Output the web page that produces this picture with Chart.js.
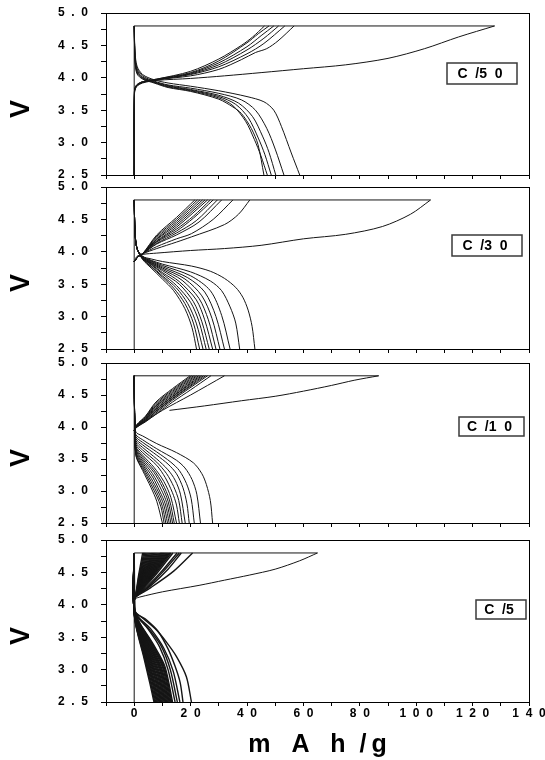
<!DOCTYPE html>
<html><head><meta charset="utf-8">
<script src="https://cdn.jsdelivr.net/npm/chart.js@4.4.1/dist/chart.umd.min.js"></script>
<style>
html,body{margin:0;padding:0;background:#fff;}
#wrap{position:relative;width:545px;height:760px;overflow:hidden;background:#fff;}
canvas{position:absolute;left:0;top:0;}
</style></head><body><div id="wrap">
<canvas id="p1" width="545" height="760"></canvas>
<canvas id="p2" width="545" height="760"></canvas>
<canvas id="p3" width="545" height="760"></canvas>
<canvas id="p4" width="545" height="760"></canvas>
</div>
<script>
const xTickValues = [-10,0,10,20,30,40,50,60,70,80,90,100,110,120,130,140];
const yTickValues = [2.5,2.75,3,3.25,3.5,3.75,4,4.25,4.5,4.75,5];
const rateLabels = ['C  /5  0','C  /3  0','C  /1  0','C  /5'];
const xTitle = 'm   A   h  /\u2009g';
const yTitle = 'V';

// ---- C/50 ----
const c50Frame = [[0,2.5],[0,4.8],[127.8,4.8]];
const c50FirstCharge = [[0,2.5],[0.1,3.75],[0.8,3.86],[3,3.92],[8,3.96],[20,3.99],[32,4.03],[45,4.08],[60,4.14],[75,4.2],[90,4.3],[103,4.45],[115,4.63],[127.8,4.8]];
const c50Charge = [
 [[0,2.5],[0.1,3.78],[0.8,3.87],[3,3.93],[8,3.97],[20,4.03],[30,4.13],[38,4.28],[43,4.39],[47,4.45],[51,4.57],[56.7,4.8]],
 [[0,2.5],[0.1,3.78],[0.8,3.87],[3,3.93],[8,3.97],[20,4.05],[30,4.17],[40,4.37],[46,4.53],[53.4,4.8]],
 [[0,2.5],[0.1,3.79],[0.8,3.88],[3,3.93],[8,3.97],[20,4.06],[30,4.2],[40,4.43],[46,4.61],[51.2,4.8]],
 [[0,2.5],[0.1,3.79],[0.8,3.88],[3,3.94],[8,3.97],[20,4.07],[30,4.23],[40,4.48],[45,4.65],[49.5,4.8]],
 [[0,2.5],[0.1,3.8],[0.8,3.88],[3,3.94],[8,3.98],[20,4.08],[30,4.26],[40,4.54],[44,4.68],[47.8,4.8]],
 [[0,2.5],[0.1,3.8],[0.8,3.89],[3,3.94],[8,3.98],[20,4.1],[30,4.29],[38,4.5],[42,4.63],[46.2,4.8]]
];
const c50Discharge = [
 [[0,4.8],[0.3,4.4],[1,4.18],[3,4.05],[7,3.97],[12,3.92],[20,3.87],[30,3.8],[40,3.71],[46,3.63],[49.5,3.5],[52.2,3.25],[55.7,2.84],[58.7,2.5]],
 [[0,4.8],[0.3,4.35],[1,4.15],[3,4.03],[7,3.95],[12,3.89],[20,3.84],[30,3.76],[38,3.66],[43,3.5],[47,3.22],[50,2.9],[53.1,2.5]],
 [[0,4.8],[0.3,4.32],[1,4.12],[3,4.01],[7,3.94],[12,3.88],[20,3.82],[30,3.73],[37,3.61],[42,3.4],[45.5,3.1],[47.8,2.85],[50.2,2.5]],
 [[0,4.8],[0.3,4.3],[1,4.1],[3,4.0],[7,3.93],[12,3.87],[20,3.81],[30,3.71],[36,3.59],[40.5,3.38],[44,3.07],[46.3,2.82],[48.6,2.5]],
 [[0,4.8],[0.3,4.28],[1,4.08],[3,3.99],[7,3.93],[12,3.86],[20,3.8],[30,3.69],[35,3.57],[39.5,3.33],[42.6,3.05],[44.9,2.8],[47.2,2.5]],
 [[0,4.8],[0.3,4.25],[1,4.06],[3,3.98],[7,3.92],[12,3.85],[20,3.79],[30,3.67],[35,3.55],[38,3.45],[41.5,3.22],[43.9,2.97],[46,2.5]]
];

// ---- C/30 ----
const c30Frame = [[0,2.5],[0,4.8],[105.1,4.8]];
const c30FirstCharge = [[0,3.85],[1,3.93],[3,3.96],[8,3.98],[20,4.02],[32,4.05],[45,4.1],[60,4.2],[75,4.27],[88,4.39],[98,4.58],[105.1,4.8]];
const c30Charge = [
 [[0,3.85],[1.5,3.93],[3,3.97],[8,4.26],[15,4.53],[21.5,4.8]],
 [[0,3.85],[1.5,3.93],[3,3.97],[8,4.24],[15,4.5],[22.4,4.8]],
 [[0,3.85],[1.5,3.93],[3,3.97],[8,4.22],[15,4.47],[23.3,4.8]],
 [[0,3.85],[1.5,3.93],[3,3.97],[8,4.2],[15,4.44],[24.2,4.8]],
 [[0,3.85],[1.5,3.93],[3,3.97],[8,4.19],[15,4.41],[25.1,4.8]],
 [[0,3.85],[1.5,3.93],[3,3.97],[8,4.17],[15,4.38],[26,4.8]],
 [[0,3.85],[1.5,3.93],[3,3.97],[8,4.16],[15,4.35],[21,4.55],[27,4.8]],
 [[0,3.85],[1.5,3.93],[3,3.97],[8,4.15],[15,4.32],[21,4.52],[28,4.8]],
 [[0,3.85],[1.5,3.93],[3,3.97],[8,4.13],[15,4.29],[22,4.48],[29.5,4.8]],
 [[0,3.85],[1.5,3.93],[3,3.97],[8,4.12],[15,4.26],[23,4.46],[31,4.8]],
 [[0,3.85],[1.5,3.93],[3,3.97],[8,4.08],[15,4.2],[20.3,4.28],[28,4.5],[35,4.8]],
 [[0,3.85],[1.5,3.93],[3,3.97],[8,4.05],[15,4.15],[20.3,4.23],[32,4.42],[37,4.58],[41,4.8]]
];
const c30Discharge = [
 [[0,4.8],[0.3,4.3],[1,4.05],[3,3.88],[6,3.75],[10,3.58],[14,3.4],[18,3.12],[20.5,2.83],[22.1,2.5]],
 [[0,4.8],[0.3,4.3],[1,4.05],[3,3.89],[6,3.77],[10,3.61],[14,3.44],[18,3.2],[21,2.9],[23.2,2.5]],
 [[0,4.8],[0.3,4.3],[1,4.05],[3,3.89],[6,3.78],[10,3.63],[15,3.44],[19,3.2],[22,2.9],[24.4,2.5]],
 [[0,4.8],[0.3,4.3],[1,4.05],[3,3.9],[6,3.8],[10,3.66],[15,3.48],[20,3.22],[23,2.92],[25.5,2.5]],
 [[0,4.8],[0.3,4.3],[1,4.05],[3,3.9],[6,3.81],[10,3.68],[16,3.5],[21,3.23],[24,2.92],[26.6,2.5]],
 [[0,4.8],[0.3,4.3],[1,4.05],[3,3.9],[6,3.82],[10,3.71],[16,3.54],[22,3.26],[25,2.95],[27.8,2.5]],
 [[0,4.8],[0.3,4.3],[1,4.05],[3,3.91],[6,3.83],[10,3.73],[17,3.56],[23,3.28],[26.3,2.95],[29,2.5]],
 [[0,4.8],[0.3,4.3],[1,4.05],[3,3.91],[6,3.84],[10,3.75],[18,3.58],[24,3.32],[27.6,2.97],[30.4,2.5]],
 [[0,4.8],[0.3,4.3],[1,4.05],[3,3.92],[6,3.85],[10,3.77],[19,3.6],[25,3.38],[29,3.0],[32,2.5]],
 [[0,4.8],[0.3,4.3],[1,4.05],[3,3.92],[6,3.86],[10,3.79],[20,3.63],[27,3.4],[31,3.02],[34,2.5]],
 [[0,4.8],[0.3,4.3],[1,4.05],[3,3.93],[6,3.87],[10,3.81],[20,3.69],[27,3.55],[31,3.4],[34,3.15],[36,2.9],[37.4,2.5]],
 [[0,4.8],[0.3,4.3],[1,4.05],[3,3.93],[6,3.89],[10,3.85],[20.3,3.78],[27,3.7],[32,3.59],[36,3.45],[38.5,3.3],[40.4,3.1],[41.8,2.85],[42.8,2.5]]
];

// ---- C/10 ----
const c10Frame = [[0,2.5],[0,4.8],[86.7,4.8]];
const c10FirstCharge = [[12.5,4.26],[25,4.33],[38,4.41],[50,4.48],[60,4.56],[70,4.65],[78,4.73],[86.7,4.8]];
const c10Charge = [
 [[0,3.95],[1,4.04],[4,4.17],[7.7,4.39],[13.6,4.6],[19.8,4.8]],
 [[0,3.95],[1,4.04],[4,4.16],[7.7,4.37],[13.6,4.58],[20.4,4.8]],
 [[0,3.95],[1,4.03],[4,4.15],[7.7,4.35],[13.6,4.56],[21,4.8]],
 [[0,3.95],[1,4.03],[4,4.14],[7.7,4.33],[13.6,4.54],[21.6,4.8]],
 [[0,3.95],[1,4.03],[4,4.13],[7.7,4.32],[13.6,4.52],[22.2,4.8]],
 [[0,3.95],[1,4.02],[4,4.12],[7.7,4.3],[13.6,4.5],[22.8,4.8]],
 [[0,3.95],[1,4.02],[4,4.12],[7.7,4.28],[13.6,4.48],[23.4,4.8]],
 [[0,3.95],[1,4.02],[4,4.11],[7.7,4.27],[13.6,4.47],[24,4.8]],
 [[0,3.95],[1,4.01],[4,4.1],[7.7,4.25],[13.6,4.45],[24.6,4.8]],
 [[0,3.95],[1,4.01],[4,4.1],[7.7,4.24],[13.6,4.44],[25.3,4.8]],
 [[0,3.95],[1,4.01],[4,4.09],[7.7,4.22],[13.6,4.42],[26,4.8]],
 [[0,3.95],[1,4.0],[4,4.08],[7.7,4.2],[13.6,4.39],[20,4.58],[27.2,4.8]],
 [[0,3.95],[1,4.0],[3,4.06],[10,4.26],[20,4.5],[32,4.8]]
];
const c10Discharge = [
 [[0,4.8],[0.2,4.1],[0.6,3.92],[3,3.86],[8,3.74],[15,3.6],[21,3.44],[24,3.27],[25.6,3.1],[27,2.85],[27.8,2.5]],
 [[0,4.8],[0.2,4.05],[0.6,3.88],[3,3.8],[8,3.66],[15,3.48],[18,3.36],[20.5,3.18],[22.2,2.95],[23.5,2.5]],
 [[0,4.8],[0.2,4.05],[0.6,3.85],[3,3.76],[8,3.61],[13,3.45],[16,3.32],[18.5,3.12],[20.2,2.88],[21.3,2.5]],
 [[0,4.8],[0.2,4.05],[0.6,3.82],[3,3.72],[8,3.56],[12,3.42],[15,3.27],[17.3,3.05],[18.7,2.8],[19.5,2.5]],
 [[0,4.8],[0.2,4.05],[0.6,3.79],[3,3.68],[8,3.5],[12,3.33],[14.5,3.17],[16.4,2.95],[18.1,2.5]],
 [[0,4.8],[0.2,4.05],[0.6,3.76],[3,3.64],[8,3.45],[11.5,3.27],[14,3.07],[15.8,2.85],[17,2.5]],
 [[0,4.8],[0.2,4.05],[0.6,3.73],[3,3.6],[8,3.4],[11,3.21],[13.5,2.98],[15,2.78],[16,2.5]],
 [[0,4.8],[0.2,4.05],[0.6,3.7],[3,3.56],[7,3.37],[10.5,3.15],[13,2.9],[15,2.5]],
 [[0,4.8],[0.2,4.05],[0.6,3.68],[3,3.53],[7,3.33],[10,3.12],[12.5,2.86],[14.2,2.5]],
 [[0,4.8],[0.2,4.05],[0.6,3.66],[3,3.5],[7,3.29],[10,3.06],[12,2.84],[13.6,2.5]],
 [[0,4.8],[0.2,4.05],[0.6,3.64],[3,3.47],[6.5,3.27],[9.5,3.03],[11.5,2.82],[13,2.5]],
 [[0,4.8],[0.2,4.05],[0.6,3.62],[3,3.44],[6.5,3.22],[9,3.0],[11,2.8],[12.4,2.5]],
 [[0,4.8],[0.2,4.05],[0.6,3.6],[3,3.41],[6,3.2],[8.5,2.99],[10.5,2.78],[11.8,2.5]],
 [[0,4.8],[0.2,4.05],[0.6,3.58],[3,3.38],[6,3.15],[8.5,2.93],[10,2.76],[11.2,2.5]],
 [[0,4.8],[0.2,4.05],[0.6,3.56],[3,3.35],[6,3.1],[8,2.92],[9.5,2.75],[10.6,2.5]],
 [[0,4.8],[0.2,4.05],[0.6,3.55],[3,3.32],[6,3.05],[8,2.84],[10,2.5]]
];

// ---- C/5 ----
const c5Frame = [[0,2.5],[0,4.8],[65,4.8]];
const c5FirstCharge = [[0.5,4.1],[2,4.12],[10,4.2],[23,4.3],[32,4.38],[41,4.46],[50,4.55],[58.7,4.68],[65,4.8]];
const c5Charge = [
 [[0,4.08],[0.4,4.12],[1.5,4.44],[3,4.8]],
 [[0,4.08],[0.4,4.12],[1.7,4.44],[3.4,4.8]],
 [[0,4.08],[0.4,4.12],[1.9,4.44],[3.8,4.8]],
 [[0,4.08],[0.4,4.12],[2.1,4.44],[4.2,4.8]],
 [[0,4.08],[0.4,4.12],[2.3,4.44],[4.6,4.8]],
 [[0,4.08],[0.4,4.12],[2.5,4.44],[5,4.8]],
 [[0,4.08],[0.4,4.12],[2.7,4.44],[5.4,4.8]],
 [[0,4.08],[0.4,4.12],[2.9,4.44],[5.8,4.8]],
 [[0,4.08],[0.4,4.12],[3.1,4.44],[6.2,4.8]],
 [[0,4.08],[0.4,4.12],[3.3,4.44],[6.6,4.8]],
 [[0,4.08],[0.4,4.12],[3.5,4.44],[7,4.8]],
 [[0,4.08],[0.4,4.12],[3.7,4.44],[7.4,4.8]],
 [[0,4.08],[0.4,4.12],[3.9,4.44],[7.8,4.8]],
 [[0,4.08],[0.4,4.12],[4.1,4.44],[8.2,4.8]],
 [[0,4.08],[0.4,4.12],[4.3,4.44],[8.6,4.8]],
 [[0,4.08],[0.4,4.12],[4.5,4.44],[9,4.8]],
 [[0,4.08],[0.4,4.12],[4.7,4.44],[9.4,4.8]],
 [[0,4.08],[0.4,4.12],[4.9,4.44],[9.8,4.8]],
 [[0,4.08],[0.4,4.12],[5.1,4.44],[10.2,4.8]],
 [[0,4.08],[0.4,4.12],[5.3,4.44],[10.6,4.8]],
 [[0,4.08],[0.4,4.12],[5.5,4.44],[11,4.8]],
 [[0,4.08],[0.4,4.12],[5.7,4.44],[11.4,4.8]],
 [[0,4.08],[0.4,4.12],[5.9,4.44],[11.8,4.8]],
 [[0,4.08],[0.4,4.12],[6.1,4.44],[12.2,4.8]],
 [[0,4.08],[0.4,4.12],[6.3,4.44],[12.6,4.8]],
 [[0,4.08],[0.4,4.12],[6.5,4.43],[13.1,4.8]],
 [[0,4.08],[0.4,4.12],[6.8,4.42],[13.7,4.8]],
 [[0.4,4.12],[5,4.3],[10,4.53],[15.2,4.8]],
 [[0.4,4.12],[5,4.28],[10,4.5],[16,4.8]],
 [[0.4,4.12],[6,4.3],[12,4.55],[16.7,4.8]],
 [[0.4,4.12],[6,4.27],[14,4.52],[20.7,4.8]]
];
const c5Discharge = [
 [[0,4.8],[0.15,3.8],[3.5,3.17],[5.6,2.78],[7,2.5]],
 [[0,4.8],[0.15,3.81],[3.65,3.18],[5.84,2.79],[7.3,2.5]],
 [[0,4.8],[0.15,3.81],[3.8,3.19],[6.08,2.8],[7.6,2.5]],
 [[0,4.8],[0.15,3.82],[3.95,3.2],[6.32,2.82],[7.9,2.5]],
 [[0,4.8],[0.15,3.82],[4.1,3.21],[6.56,2.83],[8.2,2.5]],
 [[0,4.8],[0.15,3.83],[4.25,3.22],[6.8,2.84],[8.5,2.5]],
 [[0,4.8],[0.15,3.83],[4.4,3.23],[7.04,2.85],[8.8,2.5]],
 [[0,4.8],[0.15,3.84],[4.55,3.24],[7.28,2.87],[9.1,2.5]],
 [[0,4.8],[0.15,3.84],[4.7,3.25],[7.52,2.88],[9.4,2.5]],
 [[0,4.8],[0.15,3.85],[4.85,3.26],[7.76,2.89],[9.7,2.5]],
 [[0,4.8],[0.15,3.85],[5,3.27],[8,2.9],[10,2.5]],
 [[0,4.8],[0.15,3.86],[5.15,3.28],[8.24,2.92],[10.3,2.5]],
 [[0,4.8],[0.15,3.86],[5.3,3.29],[8.48,2.93],[10.6,2.5]],
 [[0,4.8],[0.15,3.86],[5.45,3.3],[8.72,2.94],[10.9,2.5]],
 [[0,4.8],[0.15,3.87],[5.6,3.31],[8.96,2.95],[11.2,2.5]],
 [[0,4.8],[0.15,3.87],[5.75,3.32],[9.2,2.97],[11.5,2.5]],
 [[0,4.8],[0.15,3.88],[5.9,3.33],[9.44,2.98],[11.8,2.5]],
 [[0,4.8],[0.15,3.88],[6.05,3.34],[9.68,2.99],[12.1,2.5]],
 [[0,4.8],[0.15,3.88],[6.2,3.35],[9.92,3.0],[12.4,2.5]],
 [[0,4.8],[0.15,3.89],[6.35,3.36],[10.16,3.02],[12.7,2.5]],
 [[0,4.8],[0.15,3.89],[6.5,3.37],[10.4,3.03],[13,2.5]],
 [[0,4.8],[0.15,3.9],[6.65,3.38],[10.64,3.04],[13.3,2.5]],
 [[0,4.8],[0.15,3.9],[6.8,3.39],[10.88,3.05],[13.6,2.5]],
 [[0,4.8],[0.2,3.9],[5,3.62],[9,3.35],[12,3.0],[14.5,2.5]],
 [[0,4.8],[0.2,3.9],[5,3.64],[9.5,3.37],[12.8,3.0],[15.3,2.5]],
 [[0,4.8],[0.3,3.9],[6,3.62],[10.5,3.33],[13.8,2.98],[16.2,2.5]],
 [[0,4.8],[0.3,3.9],[4,3.78],[8.3,3.6],[12,3.32],[14.5,3.05],[16.3,2.8],[17.3,2.5]],
 [[0,4.8],[0.3,3.92],[0.8,3.87],[4,3.76],[7.9,3.61],[11.5,3.42],[15,3.2],[18.5,2.89],[20.3,2.5]]
];

const FONT = '"Liberation Sans", Arial, Helvetica, sans-serif';
const spaced = s => s.split('').join('  ');
const LINE = '#151515';

const panelPlugin = {
  id: 'panelFrame',
  afterDatasetsDraw(chart, args, opts) {
    const {ctx, chartArea: a} = chart;
    ctx.save();
    ctx.strokeStyle = '#000';
    ctx.lineWidth = 1;
    ctx.strokeRect(Math.round(a.left) + 0.5, Math.round(a.top) + 0.5,
                   Math.round(a.right - a.left), Math.round(a.bottom - a.top));
    const b = opts.box;
    ctx.fillStyle = '#fff';
    ctx.fillRect(b.x, b.y, b.w, b.h);
    ctx.strokeStyle = '#3a3a3a';
    ctx.lineWidth = 1.5;
    ctx.strokeRect(b.x, b.y, b.w, b.h);
    ctx.fillStyle = '#000';
    ctx.font = 'bold 14px ' + FONT;
    ctx.textAlign = 'center';
    ctx.textBaseline = 'middle';
    ctx.fillText(opts.text, b.x + b.w / 2 - 2, b.y + b.h / 2 + 1);
    ctx.restore();
  }
};

function lineSet(pts, straight, w) {
  return {
    data: pts,
    borderColor: LINE,
    borderWidth: w || 1,
    pointRadius: 0,
    fill: false,
    tension: straight ? 0 : 0.3,
    cubicInterpolationMode: 'default'
  };
}

function makePanel(id, top, bottom, frame, first, charge, discharge, label, box, last, curveWidth) {
  const xh = last ? (760 - bottom) : 8;
  const datasets = [lineSet(frame, true, 1), lineSet(first, false, 1)]
    .concat(charge.map(c => lineSet(c, false, curveWidth)))
    .concat(discharge.map(c => lineSet(c, false, curveWidth)));
  new Chart(document.getElementById(id), {
    type: 'line',
    data: { datasets },
    plugins: [panelPlugin],
    options: {
      responsive: false,
      animation: false,
      events: [],
      layout: { padding: { top: top, bottom: 760 - bottom - xh, left: 0, right: 16 } },
      plugins: {
        legend: { display: false },
        tooltip: { enabled: false },
        panelFrame: { text: label, box: box }
      },
      scales: {
        x: {
          type: 'linear', min: -10, max: 140,
          afterBuildTicks: s => { s.ticks = xTickValues.map(v => ({ value: v })); },
          afterFit: s => { s.height = xh; s.paddingLeft = 0; s.paddingRight = 0; },
          grid: { drawOnChartArea: false, drawTicks: true, tickLength: 4, color: '#000', lineWidth: 1 },
          border: { display: true, color: '#000', width: 1 },
          ticks: {
            autoSkip: false, maxRotation: 0, padding: 0, color: '#000',
            font: { family: FONT, size: 12, weight: 'bold' },
            callback: v => (last && v >= 0 && v % 20 === 0) ? spaced(String(v)) : ''
          },
          title: {
            display: last, text: xTitle, color: '#000',
            font: { family: FONT, size: 25, weight: 'bold' },
            padding: { top: 0, bottom: 0 }
          }
        },
        y: {
          type: 'linear', min: 2.5, max: 5,
          afterBuildTicks: s => { s.ticks = yTickValues.map(v => ({ value: v })); },
          afterFit: s => { s.width = 106; s.paddingTop = 0; s.paddingBottom = 0; },
          grid: { drawOnChartArea: false, drawTicks: true, tickLength: 5, color: '#000', lineWidth: 1 },
          border: { display: true, color: '#000', width: 1 },
          ticks: {
            autoSkip: false, padding: 13, color: '#000',
            font: { family: FONT, size: 12, weight: 'bold' },
            callback: v => {
              const r = Math.round(v * 2);
              return Math.abs(v * 2 - r) < 1e-6 ? spaced(v.toFixed(1)) : '';
            }
          },
          title: {
            display: true, text: yTitle + '    ', color: '#000',
            font: { family: FONT, size: 27, weight: 'bold' },
            padding: { top: 5, bottom: 0 }
          }
        }
      }
    }
  });
}

makePanel('p1', 13, 175, c50Frame, c50FirstCharge, c50Charge, c50Discharge, rateLabels[0], {x:447, y:63, w:70, h:21}, false, 1);
makePanel('p2', 187, 349, c30Frame, c30FirstCharge, c30Charge, c30Discharge, rateLabels[1], {x:452, y:235, w:70, h:21}, false, 1);
makePanel('p3', 363, 523, c10Frame, c10FirstCharge, c10Charge, c10Discharge, rateLabels[2], {x:459, y:417, w:65, h:19}, false, 1);
makePanel('p4', 540, 702, c5Frame, c5FirstCharge, c5Charge, c5Discharge, rateLabels[3], {x:476, y:600, w:50, h:19}, true, 1.4);
</script>
</body></html>
